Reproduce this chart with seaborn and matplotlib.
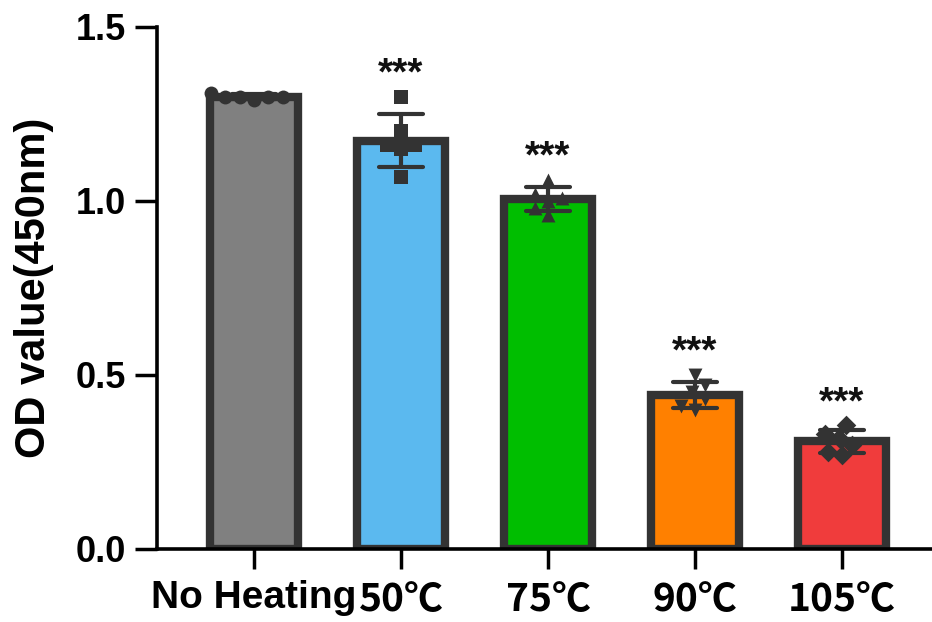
import matplotlib
matplotlib.use("Agg")
import matplotlib.pyplot as plt
import numpy as np
import pandas as pd
import seaborn as sns

# data
groups = ["No Heating", "50℃", "75℃", "90℃", "105℃"]
no_heating = [1.31, 1.30, 1.30, 1.30, 1.30, 1.29]
heat_50 = [1.30, 1.20, 1.07, 1.16, 1.15, 1.16]
heat_75 = [1.06, 1.02, 1.01, 1.00, 0.98, 0.96]
heat_90 = [0.50, 0.47, 0.45, 0.43, 0.41, 0.40]
heat_105 = [0.355, 0.33, 0.32, 0.30, 0.28, 0.27]
significance = ["", "***", "***", "***", "***"]

bar_colors = ["#808080", "#5BB9EF", "#00BE00", "#FF8000", "#F03C3C"]
markers = ["o", "s", "^", "v", "D"]
edge = "#333333"

values = [no_heating, heat_50, heat_75, heat_90, heat_105]
df = pd.DataFrame({
    "group": np.repeat(groups, [len(v) for v in values]),
    "od": np.concatenate(values),
})

sns.set_style("ticks")
plt.rcParams["font.family"] = ["Liberation Sans", "DejaVu Sans"]
plt.rcParams["font.weight"] = "bold"
plt.rcParams["text.color"] = "black"

fig = plt.figure(figsize=(9.32, 6.22), dpi=100)
ax = fig.add_axes([0.1685, 0.1174, 0.8315, 0.8392])

sns.barplot(
    data=df, x="group", y="od", order=groups, hue="group", hue_order=groups,
    palette=bar_colors, saturation=1, legend=False, width=0.6,
    errorbar="sd", capsize=0.3,
    err_kws={"color": edge, "linewidth": 3},
    edgecolor=edge, linewidth=6, ax=ax,
)

for g, m in zip(groups, markers):
    sub = df[df["group"] == g]
    sns.swarmplot(
        data=sub, x="group", y="od", order=groups, marker=m,
        color=edge, size=10, ax=ax, zorder=3,
    )

# significance stars above each group
for i, (g, s) in enumerate(zip(groups, significance)):
    if not s:
        continue
    v = np.array(values[i])
    top = max(v.mean() + v.std(ddof=1), v.max())
    ax.text(i, top + 0.035, s, ha="center", va="baseline",
            fontsize=28, fontweight="bold", color="#111111")

ax.set_ylim(0, 1.5)
ax.set_xlim(-0.66, 4.612)
ax.set_yticks([0, 0.5, 1.0, 1.5])
ax.set_yticklabels(["0.0", "0.5", "1.0", "1.5"])

ax.set_xlabel("")
ax.set_ylabel("OD value(450nm)", fontsize=30, fontweight="bold", color="black")
ax.yaxis.set_label_coords(-0.133, 0.5)

for side in ["top", "right"]:
    ax.spines[side].set_visible(False)
for side in ["left", "bottom"]:
    ax.spines[side].set_linewidth(2.6)
    ax.spines[side].set_color("black")

ax.tick_params(axis="y", length=16, width=2.5, labelsize=26, pad=6, colors="black")
ax.tick_params(axis="x", length=14.5, width=2.5, labelsize=28, pad=8, colors="black")
for lab in ax.get_xticklabels() + ax.get_yticklabels():
    lab.set_fontweight("bold")
for lab in ax.get_xticklabels()[1:]:
    lab.set_family(["Noto Sans CJK SC", "DejaVu Sans"])

plt.savefig("out.png", dpi=100)
